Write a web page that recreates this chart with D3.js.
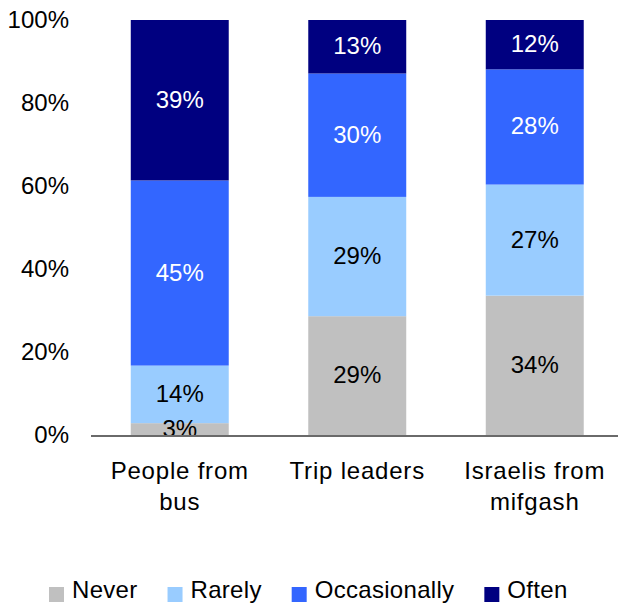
<!DOCTYPE html>
<html>
<head>
<meta charset="utf-8">
<script src="https://cdn.jsdelivr.net/npm/d3@7"></script>
<style>
  html, body { margin: 0; padding: 0; background: #fff; }
  svg text { font-family: "Liberation Sans", Arial, sans-serif; }
</style>
</head>
<body>
<svg id="chart" width="618" height="605"></svg>
<script>
// Categories (bars) and their wrapped label lines
const categories = ["People from bus", "Trip leaders", "Israelis from mifgash"];
const categoryLines = [["People from", "bus"], ["Trip leaders"], ["Israelis from", "mifgash"]];

// Response series, stacked bottom to top
const seriesNames = ["Never", "Rarely", "Occasionally", "Often"];
const never        = [3, 29, 34];
const rarely       = [14, 29, 27];
const occasionally = [45, 30, 28];
const often        = [39, 13, 12];

const seriesColors = ["#C0C0C0", "#99CCFF", "#3366FF", "#000080"];
const labelColors  = ["#000000", "#000000", "#FFFFFF", "#FFFFFF"];

const yTicks = [0, 0.2, 0.4, 0.6, 0.8, 1.0];

const rows = categories.map((c, i) => ({
  category: c,
  Never: never[i],
  Rarely: rarely[i],
  Occasionally: occasionally[i],
  Often: often[i]
}));

const svg = d3.select("#chart");
const fontSize = 24;

const x = d3.scaleBand()
  .domain(categories)
  .range([91, 623.5])
  .paddingInner(0.448)
  .paddingOuter(0.224);

const y = d3.scaleLinear().domain([0, 1]).range([435.5, 20]);

// 100% stacked layout
const stacked = d3.stack()
  .keys(seriesNames)
  .offset(d3.stackOffsetExpand)(rows);

const layers = svg.append("g").selectAll("g")
  .data(stacked)
  .join("g")
  .attr("fill", (d, i) => seriesColors[i]);

layers.selectAll("rect")
  .data(d => d)
  .join("rect")
  .attr("x", d => x(d.data.category))
  .attr("width", x.bandwidth())
  .attr("y", d => y(d[1]))
  .attr("height", d => y(d[0]) - y(d[1]));

// Segment value labels
const labels = svg.append("g").selectAll("g")
  .data(stacked)
  .join("g")
  .attr("fill", (d, i) => labelColors[i]);

labels.selectAll("text")
  .data(d => d.map(p => ({ p, key: d.key })))
  .join("text")
  .attr("x", d => x(d.p.data.category) + x.bandwidth() / 2)
  .attr("y", d => (y(d.p[0]) + y(d.p[1])) / 2 - 1)
  .attr("text-anchor", "middle")
  .attr("dominant-baseline", "central")
  .attr("font-size", fontSize)
  .text(d => d.p.data[d.key] + "%");

// Y axis labels (no line, no tick marks)
svg.append("g").selectAll("text")
  .data(yTicks)
  .join("text")
  .attr("x", 69)
  .attr("y", d => y(d) - 1)
  .attr("text-anchor", "end")
  .attr("dominant-baseline", "central")
  .attr("font-size", fontSize)
  .attr("fill", "#000")
  .text(d3.format(".0%"));

// Baseline
svg.append("line")
  .attr("x1", 91).attr("x2", 618)
  .attr("y1", y(0) + 0.5).attr("y2", y(0) + 0.5)
  .attr("stroke", "#6a6a6a")
  .attr("stroke-width", 2);

// Category labels
const cat = svg.append("g").selectAll("text")
  .data(categories)
  .join("text")
  .attr("x", d => x(d) + x.bandwidth() / 2)
  .attr("y", 479)
  .attr("text-anchor", "middle")
  .attr("font-size", fontSize)
  .attr("letter-spacing", 0.8)
  .attr("fill", "#000");

cat.selectAll("tspan")
  .data((d, i) => categoryLines[i])
  .join("tspan")
  .attr("x", function () { return this.parentNode.getAttribute("x"); })
  .attr("dy", (d, i) => i === 0 ? 0 : 31)
  .text(d => d);

// Legend
const legend = svg.append("g");
let lx = 49;
seriesNames.forEach((name, i) => {
  legend.append("rect")
    .attr("x", lx).attr("y", 587)
    .attr("width", 15).attr("height", 15)
    .attr("fill", seriesColors[i]);
  const t = legend.append("text")
    .attr("x", lx + 23).attr("y", 598)
    .attr("font-size", fontSize)
    .attr("letter-spacing", 0.3)
    .attr("fill", "#000")
    .text(name);
  lx += 23 + t.node().getComputedTextLength() + 30;
});
</script>
</body>
</html>
